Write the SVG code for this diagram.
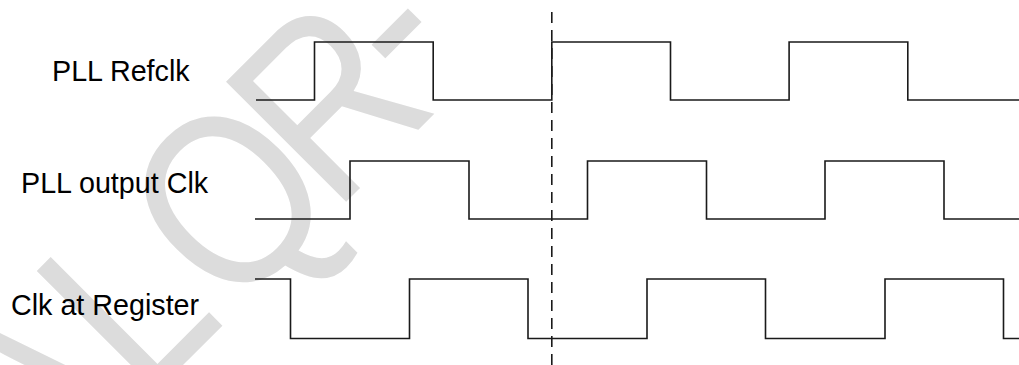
<svg xmlns="http://www.w3.org/2000/svg" width="1019" height="365" viewBox="0 0 1019 365">
<style>
.lbl{font-family:"Liberation Sans",Arial,sans-serif;font-size:28.7px;fill:#000}
.wave{fill:none;stroke:#1a1a1a;stroke-width:1.6;stroke-linejoin:miter}
.mark{fill:none;stroke:#1a1a1a;stroke-width:1.6;stroke-dasharray:11 7}
.wm{font-family:"Liberation Sans",Arial,sans-serif;font-size:247px;fill:#dcdcdc}
</style>
<rect width="1019" height="365" fill="#fff"/>
<g id="watermark" transform="translate(274,274) rotate(-45) scale(0.85,1)">
<text class="wm" x="-380 -215 -84 -72 100 261" y="0 0 0 0 0 -18">AL QR-</text>
</g>
<g id="refclk">
<text class="lbl" x="52" y="81">PLL Refclk</text>
<path class="wave" d="M256,100 H314.5 V42 H433.2 V100 H551.8 V42 H670.5 V100 H789.1 V42 H907.8 V100 H1019"/>
</g>
<g id="pll-output">
<text class="lbl" x="21" y="193">PLL output Clk</text>
<path class="wave" d="M255,219 H350 V161 H469 V219 H587.5 V161 H706.5 V219 H825 V161 H944 V219 H1019"/>
</g>
<g id="clk-register">
<text class="lbl" x="11" y="315">Clk at Register</text>
<path class="wave" d="M255,279 H290.5 V338.5 H409.5 V279 H528 V338.5 H647 V279 H765.5 V338.5 H885 V279 H1003.5 V338.5 H1019"/>
</g>
<g id="connectors">
<line class="mark" x1="551.8" y1="12" x2="551.8" y2="365"/>
</g>
</svg>
